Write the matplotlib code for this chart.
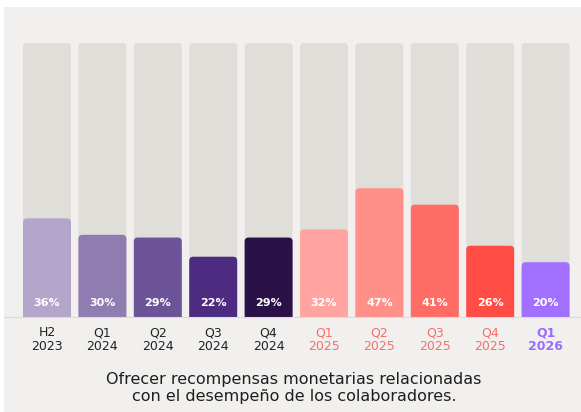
import matplotlib.pyplot as plt
from matplotlib.patches import FancyBboxPatch, Rectangle

quarters = ["H2\n2023", "Q1\n2024", "Q2\n2024", "Q3\n2024", "Q4\n2024",
            "Q1\n2025", "Q2\n2025", "Q3\n2025", "Q4\n2025", "Q1\n2026"]
values = [36, 30, 29, 22, 29, 32, 47, 41, 26, 20]
bar_colors = ["#b4a5cb", "#8f7cb1", "#6d5398", "#4d2b80", "#2a1249",
              "#ffa4a1", "#ff8f89", "#ff6c66", "#ff4c45", "#a170ff"]
label_colors = ["#222222"] * 5 + ["#f2706c"] * 4 + ["#9b6cff"]
caption = "Ofrecer recompensas monetarias relacionadas\ncon el desempeño de los colaboradores."

W, H = 581, 412
fig = plt.figure(figsize=(W / 100, H / 100), dpi=100)
fig.patch.set_facecolor("white")
fig.patches.append(Rectangle((4 / W, 0), 1, 1 - 7 / H, transform=fig.transFigure,
                             facecolor="#f1f0ee", edgecolor="none", zorder=-10))

ax = fig.add_axes([19.3 / W, 95 / H, 554 / W, 274 / H])
ax.set_facecolor("none")
ax.set_xlim(-0.5, len(values) - 0.5)
ax.set_ylim(0, 100)
for s in ax.spines.values():
    s.set_visible(False)
ax.set_yticks([])
ax.set_xticks([])

width = 0.866
# rounding: ~4px, x unit = 55.4px, y unit = 2.74px
r = 4 / 55.4
aspect = (4 / 2.74) / r


def rounded(x, bottom, height, color, z):
    p = FancyBboxPatch((x - width / 2, bottom), width, height,
                       boxstyle=f"round,pad=0,rounding_size={r}",
                       mutation_aspect=aspect, facecolor=color,
                       edgecolor="none", zorder=z)
    ax.add_patch(p)


for i, v in enumerate(values):
    rounded(i, -3, 103, "#e0ded9", 1)
    rounded(i, -3, v + 3, bar_colors[i], 2)
    ax.text(i, 5, f"{v}%", ha="center", va="center", color="white",
            fontsize=8, fontweight="bold", zorder=3)
    ax.text(i, -3.3, quarters[i], ha="center", va="top", color=label_colors[i],
            fontsize=9, linespacing=1.05,
            fontweight="bold" if i == len(values) - 1 else "normal",
            clip_on=False)

fig.add_artist(plt.Line2D([4 / W, 1], [95 / H, 95 / H], color="#dddbd7", lw=0.8))

fig.text(294 / W, 1 - 388 / H, caption, ha="center", va="center",
         fontsize=11.5, color="#1e1e1e", linespacing=1.15)

fig.savefig("out.png", dpi=100)
